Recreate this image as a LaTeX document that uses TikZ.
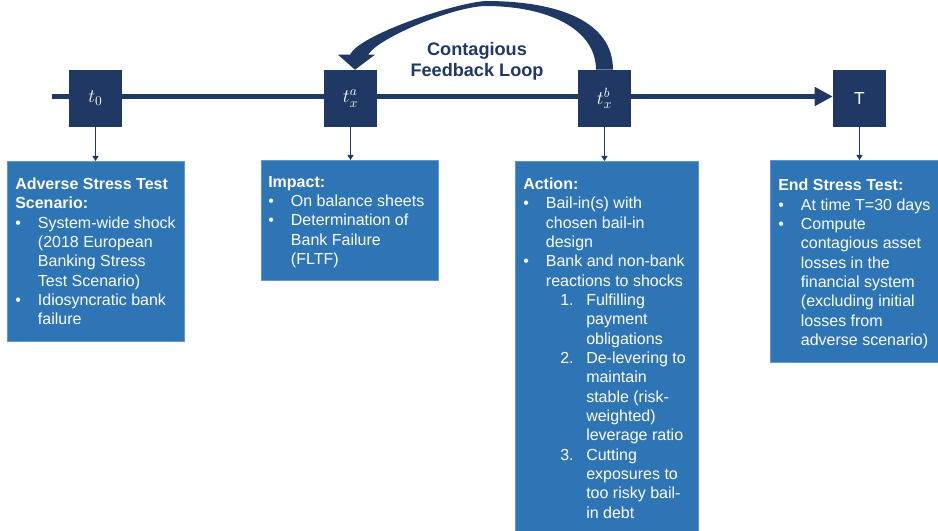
\documentclass[tikz,border=0pt]{standalone}
\usepackage{fontspec}
\setmainfont{Liberation Sans}
\usetikzlibrary{arrows.meta,calc,backgrounds}
\definecolor{navy}{HTML}{1F3864}
\definecolor{boxblue}{HTML}{2E75B6}
\newcommand{\bul}{\makebox[17pt][l]{\textbullet}}
\newcommand{\bulind}{\hspace*{17pt}}
\newcommand{\numitem}[1]{\hspace*{27.75pt}\makebox[19.5pt][l]{#1}}
\newcommand{\numind}{\hspace*{47.25pt}}

\begin{document}
\begin{tikzpicture}[x=0.75pt, y=-0.75pt,
	moment/.style = {fill=navy, text=white, minimum width=39.75pt, minimum height=42.75pt, inner sep=0pt, font=\fontsize{14}{16}\selectfont},
	panel/.style = {fill=boxblue, draw=boxblue!75!white, line width=0.5pt, anchor=north west, inner sep=0pt},
	paneltext/.style = {text=white, align=left, anchor=north west, inner sep=0pt, font=\fontsize{12}{14.5}\selectfont},
	down/.style = {navy, line width=0.75pt, -{Triangle[length=3.75pt,width=4.5pt]}},]
	
	\useasboundingbox (0,0) rectangle (938,531);
	
	\node[moment] (t0) at (95.5,98.5) {$t_0$};
	\node[moment] (txa) at (350.5,98.5) {$t_x^a$};
	\node[moment] (txb) at (604.5,98.5) {$t_x^b$};
	\node[moment, font=\fontsize{13}{15}\selectfont] (T) at (859.5,98.5) {T};
	
	\coordinate (start) at (52,96.5);
	\begin{pgfonlayer}{background}
		\draw[navy, line width=4pt, -{Triangle[length=13.5pt,width=13.5pt]}] (start) -- (start -| T.west);
	\end{pgfonlayer}
	
	\node[panel, minimum width=132.75pt, minimum height=135pt] (adv) at (7,161) {};
	\node[panel, minimum width=132.75pt, minimum height=90pt] (imp) at (261,160) {};
	\node[panel, minimum width=137.25pt, minimum height=277.5pt] (act) at (515,161) {};
	\node[panel, minimum width=126pt, minimum height=151.5pt] (end) at (770,160) {};
	
	\draw[down] (t0.south) -- (t0.south |- adv.north);
	\draw[down] (txa.south) -- (txa.south |- imp.north);
	\draw[down] (txb.south) -- (txb.south |- act.north);
	\draw[down] (T.south) -- (T.south |- end.north);
	
	\node[paneltext] (advtext) at ($(adv.north west)+(8,16.5)$) {
		{\bf Adverse Stress Test}\\
		{\bf Scenario:}\\
		\bul System-wide shock\\
		\bulind (2018 European\\
		\bulind Banking Stress\\
		\bulind Test Scenario)\\
		\bul Idiosyncratic bank\\
		\bulind failure};
	\node[paneltext] (imptext) at ($(imp.north west)+(7,16)$) {
		{\bf Impact:}\\
		\bul On balance sheets\\
		\bul Determination of\\
		\bulind Bank Failure\\
		\bulind (FLTF)};
	\node[paneltext] (acttext) at ($(act.north west)+(8,16.5)$) {
		{\bf Action:}\\
		\bul Bail-in(s) with\\
		\bulind chosen bail-in\\
		\bulind design\\
		\bul Bank and non-bank\\
		\bulind reactions to shocks\\
		\numitem{1.}Fulfilling\\
		\numind payment\\
		\numind obligations\\
		\numitem{2.}De-levering to\\
		\numind maintain\\
		\numind stable (risk-\\
		\numind weighted)\\
		\numind leverage ratio\\
		\numitem{3.}Cutting\\
		\numind exposures to\\
		\numind too risky bail-\\
		\numind in debt};
	\node[paneltext] (endtext) at ($(end.north west)+(8,19)$) {
		{\bf End Stress Test:}\\
		\bul At time T=30 days\\
		\bul Compute\\
		\bulind contagious asset\\
		\bulind losses in the\\
		\bulind financial system\\
		\bulind (excluding initial\\
		\bulind losses from\\
		\bulind adverse scenario)};
	
	% feedback loop from t_x^b back to t_x^a
	\fill[navy] ($(txb.north)+(8.5,0)$) .. controls (613,22) and (560,1) .. (485,1)
		.. controls (450,4) and (358,36) .. ($(txa.north)+(-0.5,-15)$)
		-- ($(txa.north)+(-12.5,-15)$) -- ($(txa.north)+(4.5,0)$) -- ($(txa.north)+(24.5,-15)$)
		-- ($(txa.north)+(17.5,-15)$) .. controls (378,38) and (452,7) .. (485,6)
		.. controls (550,6) and (596,30) .. ($(txb.north)+(-8.5,0)$) -- cycle;
	\node[navy, align=center, font=\bfseries\fontsize{13.6}{15.75}\selectfont] (loop) at (477,61) {Contagious\\Feedback Loop};
	
\end{tikzpicture}
\end{document}
